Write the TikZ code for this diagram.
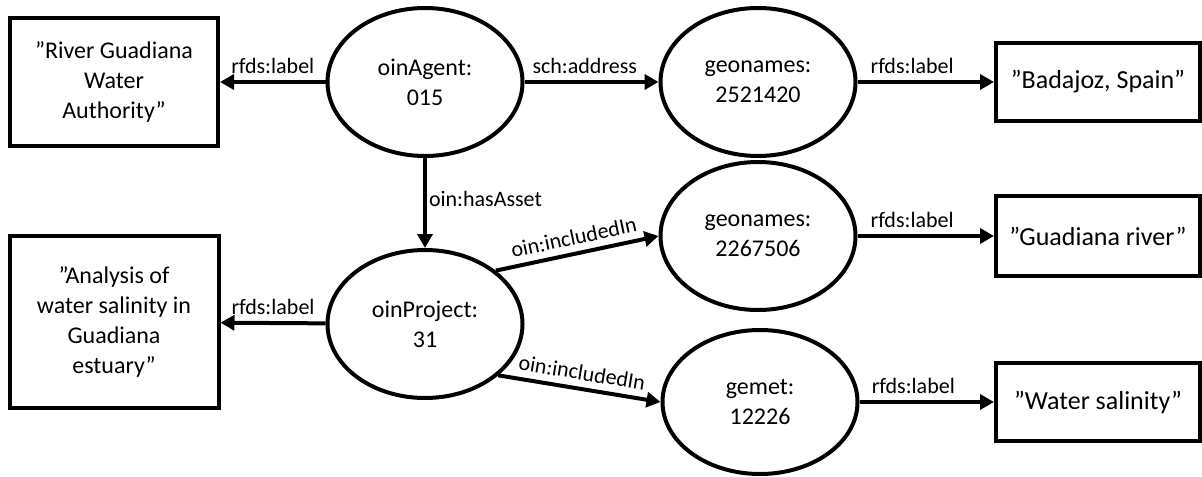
\documentclass[tikz,border=0pt]{standalone}
\usepackage{fontspec}
\setmainfont{Carlito}
\usetikzlibrary{arrows.meta,shapes.geometric}

\begin{document}
\begin{tikzpicture}[x=0.5pt,y=-0.5pt,
    every node/.style={font=\fontsize{12}{15}\selectfont},
    term/.style={draw,line width=2pt,ellipse,align=center,inner sep=0pt,
      minimum width=97.5pt,minimum height=74pt},
    literal/.style={draw,line width=2pt,rectangle,align=center,inner sep=0pt},
    rel/.style={font=\fontsize{11}{13}\selectfont}]
  \useasboundingbox (0,0) rectangle (1202,476);
  \draw
    (114,82) node[literal,minimum width=104pt,minimum height=63.5pt] (agentname){”River Guadiana\\Water\\Authority”}
    (425,82) node[term] (agent){oinAgent:\\015}
    (758,82) node[term] (place){geonames:\\2521420}
    (1098,82) node[literal,font=\fontsize{13}{15}\selectfont,minimum width=102pt,minimum height=38.5pt] (placename){”Badajoz, Spain”}
    (758,236) node[term] (river){geonames:\\2267506}
    (1098,236) node[literal,font=\fontsize{13}{15}\selectfont,minimum width=102pt,minimum height=40pt] (rivername){”Guadiana river”}
    (425,324) node[term] (project){oinProject:\\31}
    (114,322) node[literal,minimum width=104.5pt,minimum height=86pt] (projectname){”Analysis of\\water salinity in\\Guadiana\\estuary”}
    (760,402) node[term,minimum height=72pt] (salinity){gemet:\\12226}
    (1098,402) node[literal,font=\fontsize{13}{15}\selectfont,minimum width=102pt,minimum height=39pt] (salinityname){”Water salinity”};
  \begin{scope}[line width=2pt,-{Triangle[length=7pt,width=7.5pt]}]
    \draw (agent) to node[rel,above]{rfds:label} (agentname);
    \draw (agent) to node[rel,above,pos=0.45]{sch:address} (place);
    \draw (place) to node[rel,above,pos=0.4]{rfds:label} (placename);
    \draw (agent) to node[rel,right,inner sep=1pt,pos=0.45]{oin:hasAsset} (project);
    \draw (project.37) to node[rel,above,sloped]{oin:includedIn} (river.west);
    \draw (river) to node[rel,above,pos=0.4]{rfds:label} (rivername);
    \draw (project) to node[rel,above]{rfds:label} (projectname);
    \draw (project.-35) to node[rel,above,sloped]{oin:includedIn} (salinity.west);
    \draw (salinity) to node[rel,above,pos=0.4]{rfds:label} (salinityname);
  \end{scope}
\end{tikzpicture}
\end{document}
